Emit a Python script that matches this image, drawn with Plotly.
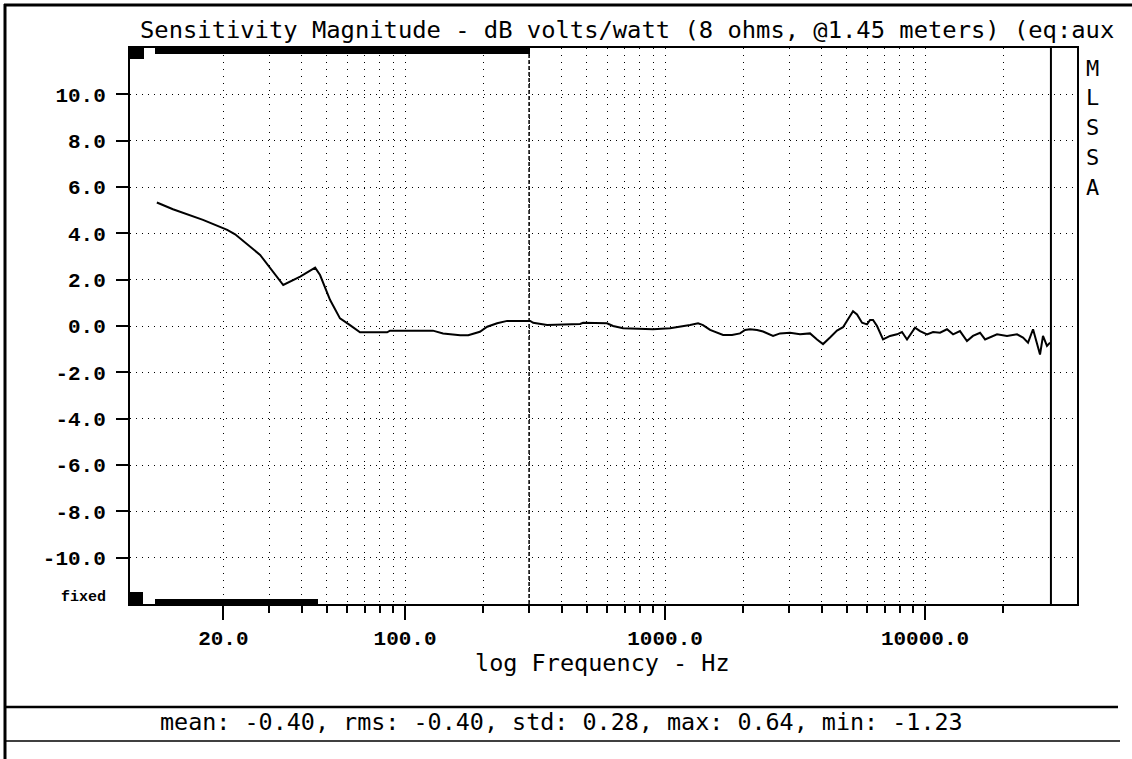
import math
import plotly.graph_objects as go

# ---------------- data ----------------
freq_hz = [11.1, 12.8, 16.7, 20.7, 22.2, 27.7, 34.0, 39.5, 45.1, 47.1, 51.5, 56.2, 61.4, 67.1,
           85.3, 87.5, 128, 140, 163, 175, 194, 207, 226, 247, 303, 311, 352, 471, 484, 598,
           631, 690, 899, 1045, 1248, 1340, 1400, 1490, 1672, 1810, 1943, 2031, 2123, 2259,
           2382, 2603, 2769, 3026, 3305, 3612, 3842, 4052, 4311, 4586, 4837, 5056, 5285, 5476,
           5724, 5984, 6146, 6310, 6538, 6895, 7336, 7804, 8157, 8526, 9154, 9567, 10180,
           10740, 11420, 12150, 12820, 13630, 14500, 15290, 16280, 17020, 17780, 18920, 20670,
           22590, 23820, 24900, 26030, 26970, 27690, 28430, 29450, 30260]
sensitivity_db = [5.33, 5.04, 4.58, 4.15, 3.96, 3.07, 1.77, 2.13, 2.52, 2.20, 1.12, 0.33, 0.04,
                  -0.27, -0.27, -0.20, -0.20, -0.32, -0.40, -0.40, -0.25, -0.03, 0.12, 0.22,
                  0.22, 0.14, 0.04, 0.09, 0.14, 0.12, 0.00, -0.10, -0.14, -0.10, 0.04, 0.12,
                  0.04, -0.17, -0.39, -0.39, -0.32, -0.17, -0.14, -0.17, -0.24, -0.43, -0.32,
                  -0.29, -0.36, -0.32, -0.58, -0.78, -0.50, -0.20, -0.05, 0.30, 0.64, 0.50,
                  0.14, 0.07, 0.26, 0.26, 0.00, -0.58, -0.43, -0.36, -0.26, -0.58, -0.07,
                  -0.22, -0.36, -0.26, -0.29, -0.14, -0.36, -0.22, -0.65, -0.43, -0.29, -0.58,
                  -0.50, -0.36, -0.43, -0.36, -0.50, -0.72, -0.14, -0.79, -1.23, -0.43, -0.86,
                  -0.72]

x_major_ticks = [20, 100, 1000, 10000]
x_major_labels = ["20.0", "100.0", "1000.0", "10000.0"]
x_minor_ticks = [30, 40, 50, 60, 70, 80, 90, 200, 300, 400, 500, 600, 700, 800, 900,
                 2000, 3000, 4000, 5000, 6000, 7000, 8000, 9000, 20000]
y_ticks = [10, 8, 6, 4, 2, 0, -2, -4, -6, -8, -10]
y_labels = ["10.0", "8.0", "6.0", "4.0", "2.0", "0.0", "-2.0", "-4.0", "-6.0", "-8.0", "-10.0"]
gate_marker_hz = 300
upper_limit_hz = 30500
x_range_hz = (8.75, 38420)
y_range_db = (-12, 12)

title_text = "Sensitivity Magnitude - dB volts/watt (8 ohms, @1.45 meters) (eq:aux"
x_title = "log Frequency - Hz"
stats_text = "mean: -0.40, rms: -0.40, std: 0.28, max: 0.64, min: -1.23"
side_letters = ["M", "L", "S", "S", "A"]

# ---------------- layout helpers ----------------
W, H = 1132, 759
L, R, T, B = 130, 55, 48, 155
PW, PH = W - L - R, H - T - B


def px(xp):
    return (xp - L) / PW


def py(yp):
    return (H - B - yp) / PH


fig = go.Figure()

# vertical marker lines (data driven)
fig.add_trace(go.Scatter(x=[gate_marker_hz, gate_marker_hz], y=list(y_range_db), mode="lines",
                         line=dict(color="black", width=1.5, dash="4px,2px"),
                         hoverinfo="skip", showlegend=False))
fig.add_trace(go.Scatter(x=[upper_limit_hz, upper_limit_hz], y=list(y_range_db), mode="lines",
                         line=dict(color="black", width=2),
                         hoverinfo="skip", showlegend=False))

# response curve
fig.add_trace(go.Scatter(x=freq_hz, y=sensitivity_db, mode="lines",
                         line=dict(color="black", width=2),
                         showlegend=False))

mono = "DejaVu Sans Mono"

fig.update_layout(
    width=W, height=H,
    margin=dict(l=L, r=R, t=T, b=B, pad=0),
    paper_bgcolor="white", plot_bgcolor="white",
    showlegend=False,
    xaxis=dict(
        type="log",
        range=[math.log10(x_range_hz[0]), math.log10(x_range_hz[1])],
        tickmode="array", tickvals=x_major_ticks, ticktext=x_major_labels,
        ticks="outside", ticklen=14, tickwidth=2, tickcolor="black",
        tickfont=dict(family="Liberation Mono", size=21, color="black", weight="bold"),
        showgrid=True, gridcolor="black", gridwidth=1, griddash="1px,6px",
        showline=True, linecolor="black", linewidth=2, mirror=True,
        zeroline=False,
        minor=dict(tickmode="array", tickvals=x_minor_ticks, ticks="outside",
                   ticklen=7, tickwidth=2, tickcolor="black",
                   showgrid=True, gridcolor="black", gridwidth=1, griddash="1px,6px"),
    ),
    yaxis=dict(
        range=list(y_range_db),
        tickmode="array", tickvals=y_ticks, ticktext=y_labels,
        ticks="outside", ticklen=12, tickwidth=2, tickcolor="black",
        tickfont=dict(family="Liberation Mono", size=21, color="black", weight="bold"),
        ticklabelstandoff=6,
        showgrid=True, gridcolor="black", gridwidth=1, griddash="1px,5px",
        showline=True, linecolor="black", linewidth=2, mirror=True,
        zeroline=False,
    ),
)

annotations = [
    dict(text=title_text, x=px(138), y=py(30), xref="paper", yref="paper",
         xanchor="left", yanchor="middle", showarrow=False,
         font=dict(family=mono, size=23.8, color="black")),
    dict(text=x_title, x=px(602), y=py(663), xref="paper", yref="paper",
         xanchor="center", yanchor="middle", showarrow=False,
         font=dict(family=mono, size=23.5, color="black")),
    dict(text=stats_text, x=px(561), y=py(722), xref="paper", yref="paper",
         xanchor="center", yanchor="middle", showarrow=False,
         font=dict(family=mono, size=23.4, color="black")),
    dict(text="fixed", x=px(108), y=py(597), xref="paper", yref="paper",
         xanchor="right", yanchor="middle", showarrow=False,
         font=dict(family="Liberation Mono", size=15, color="black", weight="bold")),
]
for i, letter in enumerate(side_letters):
    annotations.append(dict(text=letter, x=px(1084), y=py(68 + i * 29.75), xref="paper",
                            yref="paper", xanchor="left", yanchor="middle", showarrow=False,
                            font=dict(family=mono, size=22, color="black")))
fig.update_layout(annotations=annotations)

shapes = [
    # outer frame
    dict(type="line", xref="paper", yref="paper", x0=px(4), x1=px(1132), y0=py(5), y1=py(5),
         line=dict(color="black", width=3)),
    dict(type="line", xref="paper", yref="paper", x0=px(5), x1=px(5), y0=py(4), y1=py(759),
         line=dict(color="black", width=3)),
    # stats box lines
    dict(type="line", xref="paper", yref="paper", x0=px(5), x1=px(1118), y0=py(707), y1=py(707),
         line=dict(color="black", width=2.5)),
    dict(type="line", xref="paper", yref="paper", x0=px(5), x1=px(1120), y0=py(741), y1=py(741),
         line=dict(color="black", width=1.5)),
    # instrument markers on the plot border
    dict(type="rect", xref="paper", yref="paper", x0=px(155), x1=px(530), y0=py(48), y1=py(54),
         fillcolor="black", line=dict(width=0)),
    dict(type="rect", xref="paper", yref="paper", x0=px(130), x1=px(144), y0=py(47), y1=py(59),
         fillcolor="black", line=dict(width=0)),
    dict(type="rect", xref="paper", yref="paper", x0=px(130), x1=px(143), y0=py(592), y1=py(605),
         fillcolor="black", line=dict(width=0)),
    dict(type="rect", xref="paper", yref="paper", x0=px(155), x1=px(318), y0=py(599), y1=py(605),
         fillcolor="black", line=dict(width=0)),
]
fig.update_layout(shapes=shapes)

fig.write_html("out.html", config={"displayModeBar": False},
               post_script="document.body.style.margin='0';")
